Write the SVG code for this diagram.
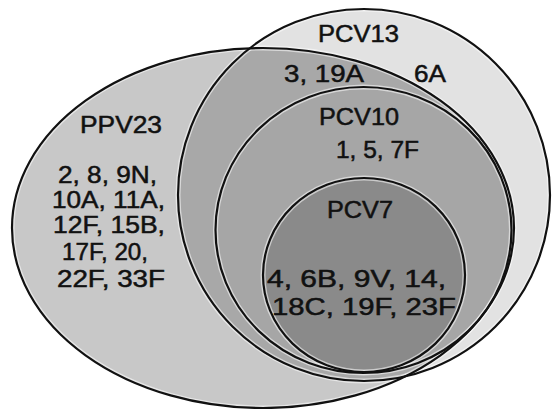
<svg xmlns="http://www.w3.org/2000/svg" width="552" height="409" viewBox="0 0 552 409">
  <defs>
    <clipPath id="clip13">
      <circle cx="364" cy="195" r="186"/>
    </clipPath>
    <style>
      .outline { fill: none; stroke: #111; stroke-width: 2.2; }
      .halo { fill: none; stroke: #fff; stroke-width: 5; stroke-opacity: 0.55; }
      .lbl { font-family: "Liberation Sans", Arial, sans-serif; font-size: 23px; fill: #111; stroke: #111; stroke-width: 0.5; text-anchor: start; }
    </style>
  </defs>
  <rect width="552" height="409" fill="#fff"/>

  <!-- area tints -->
  <g id="fills">
    <circle cx="364" cy="195" r="186" fill="#e2e2e2"/>
    <ellipse cx="263" cy="228" rx="251" ry="180" fill="#c8c8c8"/>
    <ellipse cx="263" cy="228" rx="251" ry="180" fill="#a8a8a8" clip-path="url(#clip13)"/>
    <ellipse cx="363.5" cy="230" rx="148" ry="143" fill="#a6a6a6"/>
    <ellipse cx="364" cy="275" rx="101" ry="97" fill="#8a8a8a"/>
  </g>

  <g id="halos">
    <ellipse class="halo" cx="263" cy="228" rx="251" ry="180"/>
    <circle class="halo" cx="364" cy="195" r="186"/>
    <ellipse class="halo" cx="363.5" cy="230" rx="148" ry="143"/>
    <ellipse class="halo" cx="364" cy="275" rx="101" ry="97"/>
  </g>

  <g id="node-ppv23">
    <ellipse class="outline" cx="263" cy="228" rx="251" ry="180"/>
    <text class="lbl" x="80" y="133" textLength="82" lengthAdjust="spacingAndGlyphs">PPV23</text>
    <text class="lbl" x="58" y="183" textLength="99" lengthAdjust="spacingAndGlyphs">2, 8, 9N,</text>
    <text class="lbl" x="52" y="208" textLength="113" lengthAdjust="spacingAndGlyphs">10A, 11A,</text>
    <text class="lbl" x="53" y="233" textLength="112" lengthAdjust="spacingAndGlyphs">12F, 15B,</text>
    <text class="lbl" x="62" y="260" textLength="86" lengthAdjust="spacingAndGlyphs">17F, 20,</text>
    <text class="lbl" x="57" y="287" textLength="108" lengthAdjust="spacingAndGlyphs">22F, 33F</text>
  </g>

  <g id="node-pcv13">
    <circle class="outline" cx="364" cy="195" r="186"/>
    <text class="lbl" x="318" y="42" textLength="81" lengthAdjust="spacingAndGlyphs">PCV13</text>
    <text class="lbl" x="284" y="82" textLength="80" lengthAdjust="spacingAndGlyphs">3, 19A</text>
    <text class="lbl" x="414" y="82" textLength="32" lengthAdjust="spacingAndGlyphs">6A</text>
  </g>

  <g id="node-pcv10">
    <ellipse class="outline" cx="363.5" cy="230" rx="148" ry="143"/>
    <text class="lbl" x="319" y="125" textLength="80" lengthAdjust="spacingAndGlyphs">PCV10</text>
    <text class="lbl" x="336" y="158" textLength="83" lengthAdjust="spacingAndGlyphs">1, 5, 7F</text>
  </g>

  <g id="node-pcv7">
    <ellipse class="outline" cx="364" cy="275" rx="101" ry="97"/>
    <text class="lbl" x="327" y="218" textLength="66" lengthAdjust="spacingAndGlyphs">PCV7</text>
    <text class="lbl" x="267" y="287" textLength="179" lengthAdjust="spacingAndGlyphs">4, 6B, 9V, 14,</text>
    <text class="lbl" x="272" y="315" textLength="184" lengthAdjust="spacingAndGlyphs">18C, 19F, 23F</text>
  </g>
</svg>
